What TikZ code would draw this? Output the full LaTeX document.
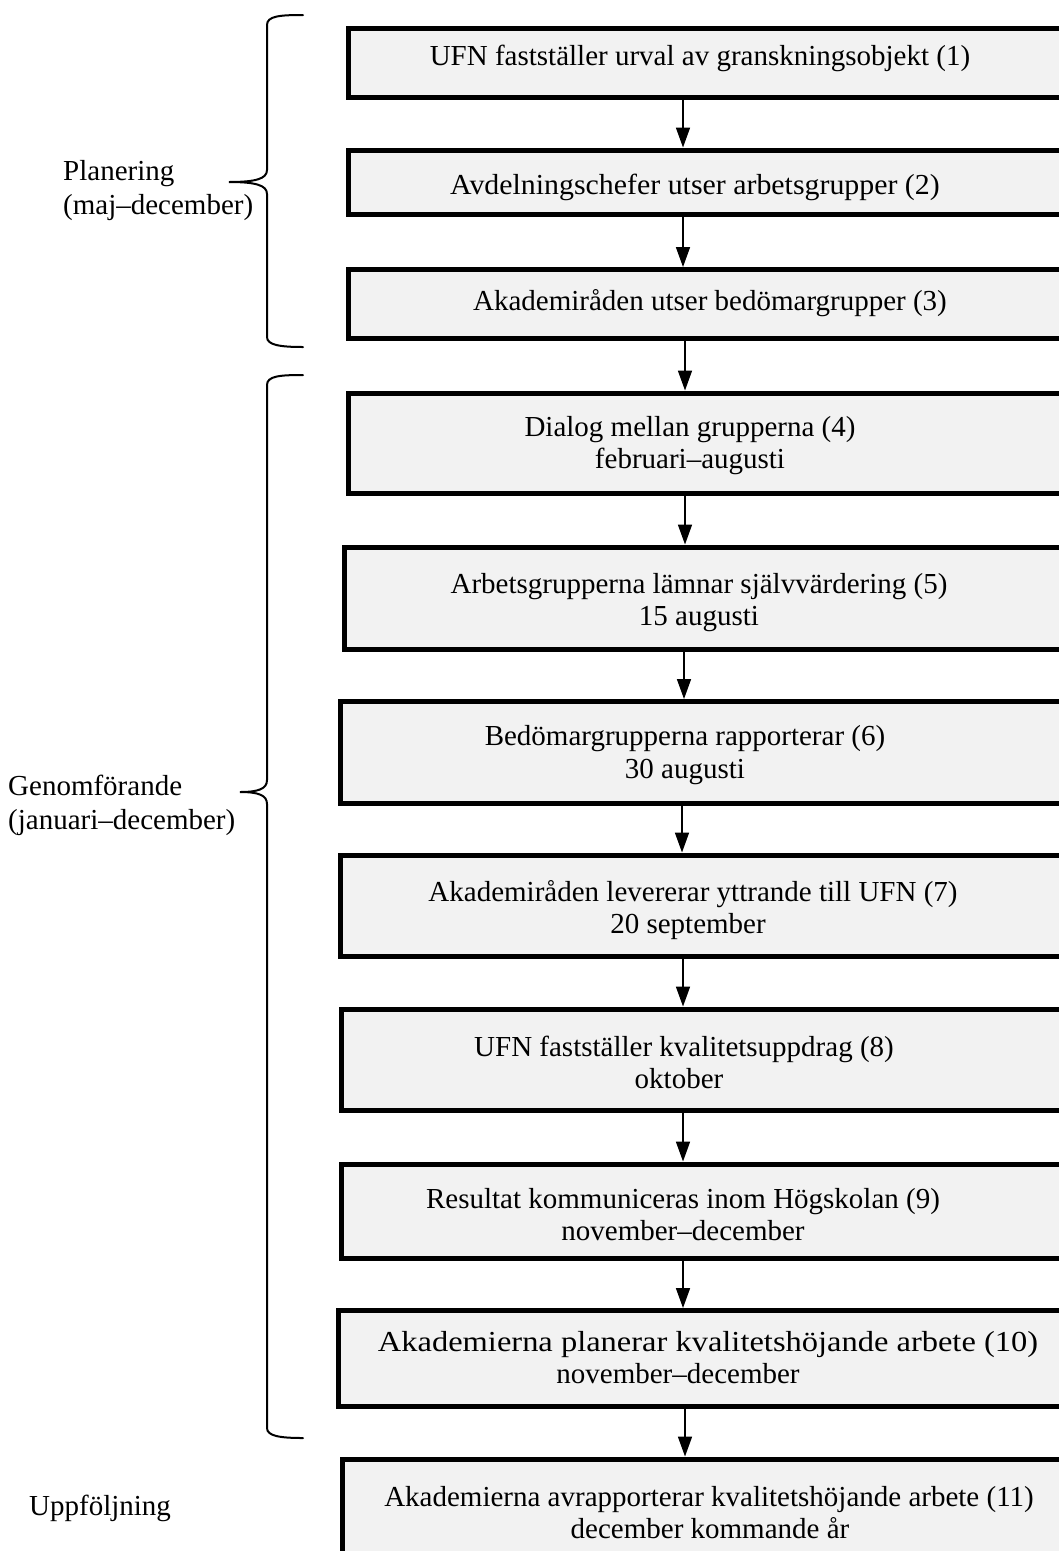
\documentclass[tikz,border=0pt]{standalone}
\usepackage{fontspec}
\setmainfont{Liberation Serif}
\usetikzlibrary{arrows.meta}
\definecolor{boxfill}{RGB}{242,242,242}
\begin{document}
\begin{tikzpicture}[x=1pt,y=-1pt,
  stepbox/.style={draw=black,line width=5pt,fill=boxfill,inner sep=0pt,outer sep=0pt},
  txt/.style={font=\fontsize{29}{33}\selectfont,inner sep=0pt,anchor=base},
  lbl/.style={font=\fontsize{29}{33}\selectfont,inner sep=0pt,anchor=base west},
  arr/.style={line width=1.7pt,-{Triangle[length=20pt,width=14pt]},shorten >=2.5pt},
  brace/.style={line width=2pt,line cap=round}]
\useasboundingbox (0,0) rectangle (1059,1551);
\clip (0,0) rectangle (1059,1551);

% boxes
\node[stepbox,minimum width=727pt,minimum height=69.5pt] (b1) at (711.5,62.75) {};
\node[stepbox,minimum width=727pt,minimum height=64pt] (b2) at (711.5,182) {};
\node[stepbox,minimum width=727pt,minimum height=68.5pt] (b3) at (711.5,303.75) {};
\node[stepbox,minimum width=727pt,minimum height=100pt] (b4) at (711.5,443) {};
\node[stepbox,minimum width=731pt,minimum height=102pt] (b5) at (709.5,598) {};
\node[stepbox,minimum width=735pt,minimum height=102pt] (b6) at (707.5,752.5) {};
\node[stepbox,minimum width=735pt,minimum height=101pt] (b7) at (707.5,905.5) {};
\node[stepbox,minimum width=734pt,minimum height=101pt] (b8) at (708,1059.5) {};
\node[stepbox,minimum width=734pt,minimum height=94pt] (b9) at (708,1211) {};
\node[stepbox,minimum width=737pt,minimum height=95.5pt] (b10) at (706.5,1358.25) {};
\node[stepbox,minimum width=733pt,minimum height=101pt] (b11) at (708.5,1509.5) {};

% texts
\node[txt] (t1) at (700,65) {UFN fastställer urval av granskningsobjekt (1)};
\node[txt] (t2) at (695,194) {\scalebox{1.03}[1]{Avdelningschefer utser arbetsgrupper (2)}};
\node[txt] (t3) at (710,310) {Akademiråden utser bedömargrupper (3)};
\node[txt] (t4a) at (690,436) {Dialog mellan grupperna (4)};
\node[txt] (t4b) at (690,468) {februari–augusti};
\node[txt] (t5a) at (699,593) {Arbetsgrupperna lämnar självvärdering (5)};
\node[txt] (t5b) at (699,625) {15 augusti};
\node[txt] (t6a) at (685,745) {Bedömargrupperna rapporterar (6)};
\node[txt] (t6b) at (685,778) {30 augusti};
\node[txt] (t7a) at (693,901) {Akademiråden levererar yttrande till UFN (7)};
\node[txt] (t7b) at (688,933) {20 september};
\node[txt] (t8a) at (684,1056) {UFN fastställer kvalitetsuppdrag (8)};
\node[txt] (t8b) at (679,1088) {oktober};
\node[txt] (t9a) at (683,1208) {Resultat kommuniceras inom Högskolan (9)};
\node[txt] (t9b) at (683,1240) {november–december};
\node[txt] (t10a) at (708,1351) {\scalebox{1.12}[1]{Akademierna planerar kvalitetshöjande arbete (10)}};
\node[txt] (t10b) at (678,1383) {november–december};
\node[txt] (t11a) at (709,1506) {Akademierna avrapporterar kvalitetshöjande arbete (11)};
\node[txt] (t11b) at (710,1538) {december kommande år};

% left labels
\node[lbl] (l1a) at (63,180) {Planering};
\node[lbl] (l1b) at (63,214) {(maj–december)};
\node[lbl] (l2a) at (8,795) {Genomförande};
\node[lbl] (l2b) at (8,829) {(januari–december)};
\node[lbl] (l3) at (29,1515) {Uppföljning};

% arrow columns
\coordinate (x1) at (683,0);
\coordinate (x2) at (683,0);
\coordinate (x3) at (685,0);
\coordinate (x4) at (685,0);
\coordinate (x5) at (684,0);
\coordinate (x6) at (682,0);
\coordinate (x7) at (683,0);
\coordinate (x8) at (683,0);
\coordinate (x9) at (683,0);
\coordinate (x10) at (685,0);

\draw[arr] (x1 |- b1.south) -- (x1 |- b2.north);
\draw[arr] (x2 |- b2.south) -- (x2 |- b3.north);
\draw[arr] (x3 |- b3.south) -- (x3 |- b4.north);
\draw[arr] (x4 |- b4.south) -- (x4 |- b5.north);
\draw[arr] (x5 |- b5.south) -- (x5 |- b6.north);
\draw[arr] (x6 |- b6.south) -- (x6 |- b7.north);
\draw[arr] (x7 |- b7.south) -- (x7 |- b8.north);
\draw[arr] (x8 |- b8.south) -- (x8 |- b9.north);
\draw[arr] (x9 |- b9.south) -- (x9 |- b10.north);
\draw[arr] (x10 |- b10.south) -- (x10 |- b11.north);

% braces
\draw[brace] (303,15) .. controls (280,15) and (267,16) .. (267,25) -- (267,170)
  .. controls (267,179) and (255,182) .. (229,182)
  .. controls (255,182) and (267,185) .. (267,194) -- (267,337)
  .. controls (267,345) and (280,347) .. (303,347);
\draw[brace] (303,375) .. controls (280,375) and (267,376) .. (267,385) -- (267,780)
  .. controls (267,789) and (258,792) .. (240,792)
  .. controls (258,792) and (267,795) .. (267,804) -- (267,1428)
  .. controls (267,1436) and (280,1438) .. (303,1438);
\end{tikzpicture}
\end{document}
